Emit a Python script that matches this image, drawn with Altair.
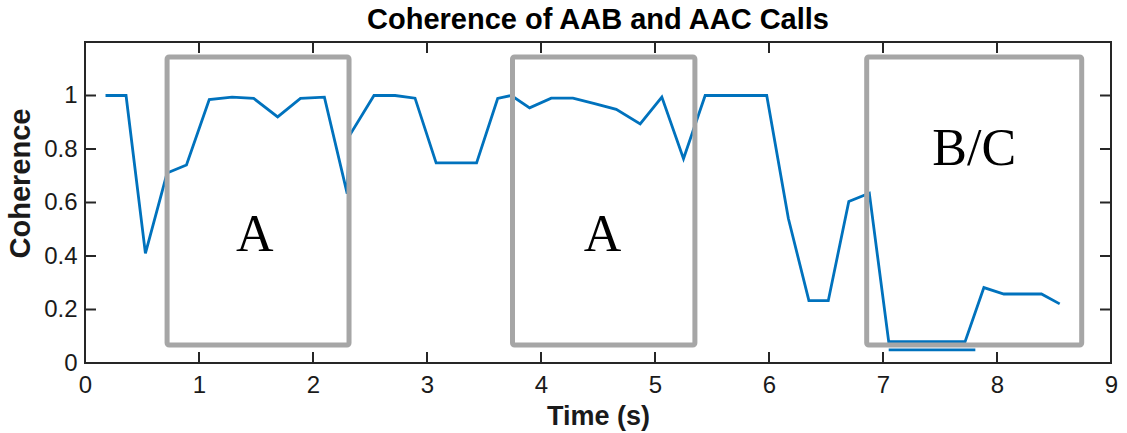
import altair as alt
import pandas as pd

# ---- data ----
time_s = [0.18, 0.36, 0.53, 0.72, 0.89, 1.09, 1.29, 1.48, 1.69, 1.89, 2.10, 2.30,
          2.32, 2.535, 2.72, 2.895, 3.08, 3.25, 3.435, 3.62, 3.74, 3.90, 4.09, 4.28,
          4.47, 4.66, 4.87, 5.06, 5.25, 5.44, 5.63, 5.82, 5.98, 6.17, 6.35, 6.52,
          6.70, 6.88, 7.05, 7.25, 7.50, 7.72, 7.885, 8.06, 8.22, 8.39, 8.55]
coherence = [1.00, 1.00, 0.41, 0.71, 0.74, 0.985, 0.994, 0.989, 0.92, 0.989, 0.994, 0.633,
             0.85, 1.00, 1.00, 0.99, 0.748, 0.748, 0.748, 0.989, 1.00, 0.954, 0.99, 0.99,
             0.97, 0.948, 0.894, 0.994, 0.764, 1.00, 1.00, 1.00, 1.00, 0.54, 0.233, 0.233,
             0.604, 0.635, 0.08, 0.08, 0.08, 0.08, 0.282, 0.258, 0.258, 0.258, 0.221]

seg_time = [7.05, 7.81]
seg_coh = [0.049, 0.049]

box_x0 = [0.72, 3.75, 6.857]
box_x1 = [2.316, 5.35, 8.743]
box_y0 = [0.067, 0.067, 0.067]
box_y1 = [1.144, 1.144, 1.144]

label_text = ["A", "A", "B/C"]
label_x = [1.49, 4.54, 7.80]
label_y = [0.42, 0.42, 0.742]

x_ticks = [0, 1, 2, 3, 4, 5, 6, 7, 8, 9]
y_ticks = [0, 0.2, 0.4, 0.6, 0.8, 1.0]

W, H = 1026, 321
TL = 11
AXC = "#262626"
SANS = "Liberation Sans"

line_df = pd.DataFrame({"time": time_s, "coh": coherence})
seg_df = pd.DataFrame({"time": seg_time, "coh": seg_coh})
box_df = pd.DataFrame({"time": box_x0, "x1": box_x1, "coh": box_y0, "y1": box_y1})
lab_df = pd.DataFrame({"txt": label_text, "time": label_x, "coh": label_y})
xt_df = pd.DataFrame({"time": x_ticks})
yt_df = pd.DataFrame({"coh": y_ticks})

xscale = alt.Scale(domain=[0, 9], nice=False, zero=False)
yscale = alt.Scale(domain=[0, 1.2], nice=False, zero=False)

xaxis = alt.Axis(values=x_ticks, ticks=False, domain=False, grid=False,
                 labelFlush=False, labelFontSize=24, labelPadding=10, labelFont=SANS,
                 labelColor="#1a1a1a", title="Time (s)", titleFont=SANS,
                 titleFontSize=27, titleFontWeight="bold", titlePadding=6,
                 titleColor="#1a1a1a")
yaxis = alt.Axis(values=y_ticks, ticks=False, domain=False, grid=False,
                 labelFlush=False, format="~g", labelFontSize=24, labelPadding=8,
                 labelFont=SANS, labelColor="#1a1a1a", title="Coherence", titleFont=SANS,
                 titleFontSize=29, titleFontWeight="bold", titleX=-50, titleY=141,
                 titleAlign="center", titleBaseline="bottom", titleAngle=270,
                 titleColor="#1a1a1a")

X = lambda f="time": alt.X(f"{f}:Q", scale=xscale, axis=xaxis)
Y = lambda f="coh": alt.Y(f"{f}:Q", scale=yscale, axis=yaxis)

main = alt.Chart(line_df).mark_line(color="#0072BD", strokeWidth=2.8).encode(
    x=X(), y=Y(), order="time:Q",
)

seg = alt.Chart(seg_df).mark_line(color="#0072BD", strokeWidth=2.8).encode(
    x=X(), y=Y()
)

boxes = alt.Chart(box_df).mark_rect(
    filled=False, stroke="#a6a6a6", strokeWidth=5, cornerRadius=2
).encode(
    x=X(), x2="x1:Q",
    y=Y(), y2="y1:Q",
)

labels = alt.Chart(lab_df).mark_text(
    font="Liberation Serif", fontSize=52, align="center", baseline="alphabetic", color="black"
).encode(
    x=X(), y=Y(), text="txt:N"
)

tick_kw = dict(color=AXC, strokeWidth=2)
xt_bot = alt.Chart(xt_df).mark_rule(**tick_kw).encode(
    x=X(), y=alt.value(H), y2=alt.value(H - TL))
xt_top = alt.Chart(xt_df).mark_rule(**tick_kw).encode(
    x=X(), y=alt.value(0), y2=alt.value(TL))
yt_left = alt.Chart(yt_df).mark_rule(**tick_kw).encode(
    y=Y(), x=alt.value(0), x2=alt.value(TL))
yt_right = alt.Chart(yt_df).mark_rule(**tick_kw).encode(
    y=Y(), x=alt.value(W), x2=alt.value(W - TL))

chart = alt.layer(main, seg, boxes, labels, xt_bot, xt_top, yt_left, yt_right).properties(
    width=W, height=H,
    title=alt.TitleParams("Coherence of AAB and AAC Calls", fontSize=29, fontWeight="bold",
                          font=SANS, anchor="middle", offset=6, color="black"),
    autosize=alt.AutoSizeParams(type="none"),
    padding={"left": 85, "top": 42, "right": 16, "bottom": 70},
    background="white",
).configure_view(stroke=AXC, strokeWidth=2)

chart.save("out.html", embed_options={"renderer": "svg", "actions": False})
